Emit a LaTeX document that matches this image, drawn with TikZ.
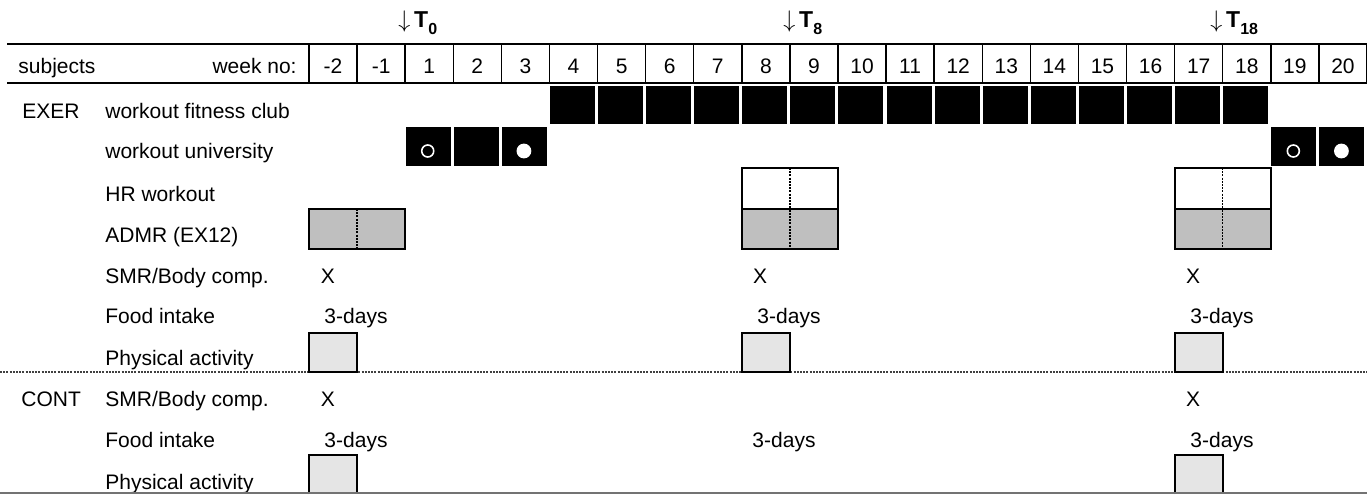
\documentclass[tikz,border=0pt]{standalone}
\usepackage{fontspec}
\setmainfont{Liberation Sans}
\newcommand{\tsub}[1]{\raisebox{-0.32em}{\fontsize{8}{8}\selectfont\bfseries #1}}
\begin{document}
\begin{tikzpicture}[x=0.5pt,y=-0.5pt,
  lbl/.style={font=\fontsize{10.5}{12}\selectfont, inner sep=0pt, anchor=base west},
  cen/.style={font=\fontsize{10.5}{12}\selectfont, inner sep=0pt, anchor=base},
  tmark/.style={font=\fontsize{11.5}{13}\selectfont\bfseries, inner sep=0pt, anchor=base west},
  rule/.style={line width=1pt},
  colline/.style={line width=0.7pt},
  boxline/.style={line width=1pt},
  halfdiv/.style={line width=0.7pt, dash pattern=on 1pt off 0.6pt},
  sepline/.style={line width=1pt, dash pattern=on 1pt off 0.6pt, draw=black!75},
  grayfill/.style={fill=black!25},
  pafill/.style={fill=black!10},
]
\useasboundingbox (0,0) rectangle (1367,494);

% time markers
\node[tmark] (t0)  at (398,27)  {$\downarrow$\,T\tsub{0}};
\node[tmark] (t8)  at (783,27)  {$\downarrow$\,T\tsub{8}};
\node[tmark] (t18) at (1210,27) {$\downarrow$\,T\tsub{18}};

% header
\draw[rule] (7,44) -- (1367,44);
\draw[rule] (7,83) -- (1367,83);
\node[lbl] (subj) at (18,73) {subjects};
\node[cen, anchor=base east] (weekno) at (297,73) {week no:};
\foreach \w [count=\k from 0] in {-2,-1,1,2,3,4,5,6,7,8,9,10,11,12,13,14,15,16,17,18,19,20}{
  \pgfmathsetmacro\xl{309+\k*48.09}
  \draw[colline] (\xl,44) -- (\xl,83);
  \node[cen] (wk\k) at ({\xl+24.05},73) {\w};
}
\draw[colline] (1366.6,44) -- (1366.6,83);

% row labels
\node[lbl] (exer) at (22,118) {EXER};
\node[lbl] (fit)  at (105,118) {workout fitness club};
\node[lbl] (uni)  at (105,158) {workout university};
\node[lbl] (hr)   at (105,201) {HR workout};
\node[lbl] (admr) at (105,242) {ADMR (EX12)};
\node[lbl] (smr)  at (105,283) {SMR/Body comp.};
\node[lbl] (food) at (105,323) {Food intake};
\node[lbl] (pa)   at (105,365) {Physical activity};
\node[lbl] (cont)  at (21,406) {CONT};
\node[lbl] (csmr)  at (105,406) {SMR/Body comp.};
\node[lbl] (cfood) at (105,447) {Food intake};
\node[lbl] (cpa)   at (105,489) {Physical activity};

% workout fitness club
\foreach \k in {5,...,19}{
  \pgfmathsetmacro\xl{309+\k*48.09}
  \fill ({\xl+0.5},86) rectangle ({\xl+45.5},124);
}
% workout university
\foreach \k in {2,3,4,20,21}{
  \pgfmathsetmacro\xl{309+\k*48.09}
  \fill ({\xl+0.5},127) rectangle ({\xl+45.5},166);
}
\draw[white, line width=0.8pt] ({309+2.5*48.09-1.5},151) circle[radius=3pt];
\fill[white] ({309+4.5*48.09-1.5},151) circle[radius=3.7pt];
\draw[white, line width=0.8pt] ({309+20.5*48.09-1.5},151) circle[radius=3pt];
\fill[white] ({309+21.5*48.09-1.5},151) circle[radius=3.7pt];

% ADMR (weeks -2,-1)
\filldraw[boxline, grayfill] (309,209) rectangle (405.2,249);
\draw[halfdiv] (357.1,209) -- (357.1,249);
% HR + ADMR at T8 (weeks 8,9)
\filldraw[boxline, fill=white] (741.8,168) rectangle (838,209);
\filldraw[boxline, grayfill] (741.8,209) rectangle (838,249);
\draw[halfdiv] (789.9,168) -- (789.9,249);
% HR + ADMR at T18 (weeks 17,18)
\filldraw[boxline, fill=white] (1174.6,168) rectangle (1270.8,209);
\filldraw[boxline, grayfill] (1174.6,209) rectangle (1270.8,249);
\draw[halfdiv] (1222.7,168) -- (1222.7,249);

% SMR / food intake (EXER)
\node[cen] (x1) at (328,283) {X};
\node[cen] (x2) at (760,283) {X};
\node[cen] (x3) at (1193,283) {X};
\node[cen] (d1) at (356,323) {3-days};
\node[cen] (d2) at (789,323) {3-days};
\node[cen] (d3) at (1222,323) {3-days};

% separator
\draw[sepline] (0,372) -- (1367,372);

% physical activity (EXER)
\filldraw[boxline, pafill] (309,333) rectangle (357.1,372);
\filldraw[boxline, pafill] (741.8,333) rectangle (789.9,372);
\filldraw[boxline, pafill] (1174.6,333) rectangle (1222.7,372);

% CONT
\node[cen] (cx1) at (328,406) {X};
\node[cen] (cx3) at (1193,406) {X};
\node[cen] (cd1) at (356,447) {3-days};
\node[cen] (cd2) at (784,447) {3-days};
\node[cen] (cd3) at (1222,447) {3-days};
\fill[pafill] (309,455) rectangle (357.1,494);
\draw[boxline] (309,494) -- (309,455) -- (357.1,455) -- (357.1,494);
\fill[pafill] (1174.6,455) rectangle (1222.7,494);
\draw[boxline] (1174.6,494) -- (1174.6,455) -- (1222.7,455) -- (1222.7,494);

% bottom edge
\draw[black!55, line width=0.6pt] (0,493) -- (1367,493);
\end{tikzpicture}
\end{document}
